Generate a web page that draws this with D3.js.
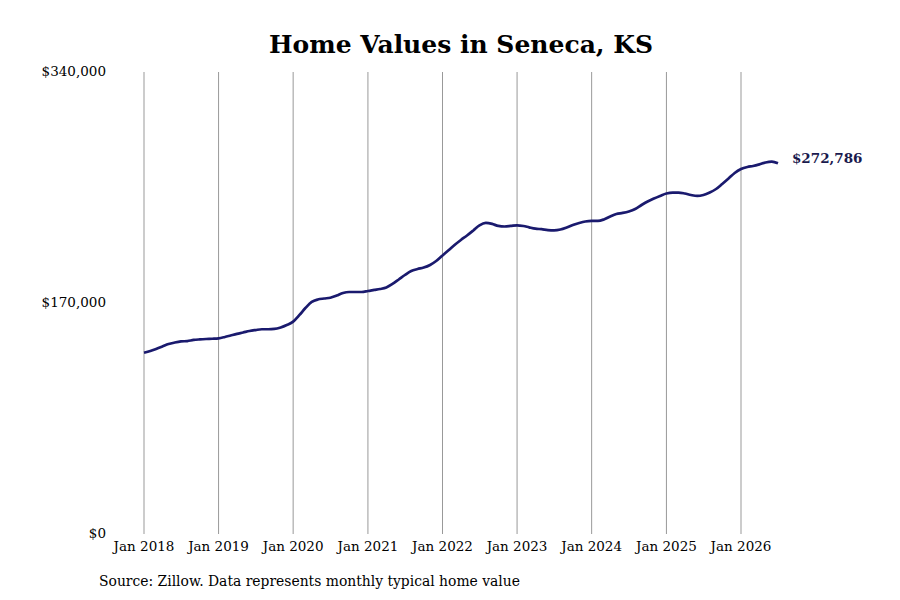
<!DOCTYPE html>
<html>
<head>
<meta charset="utf-8">
<script src="https://cdn.jsdelivr.net/npm/d3@7"></script>
<style>
  body { margin: 0; background: #fff; }
  text { font-family: "DejaVu Serif", serif; }
</style>
</head>
<body>
<div id="chart"></div>
<script>
// monthly typical home value, Jan 2018 .. Jul 2026
const startYear = 2018;
const values = [
  133400, 134700, 136200, 138000, 139800, 140900, 141700, 142000, 142800, 143200, 143500, 143700,
  144000, 145000, 146100, 147300, 148300, 149400, 150100, 150700, 150700, 150900, 152000, 153800,
  156300, 161200, 166300, 170800, 172600, 173300, 173900, 175500, 177400, 178100, 178100, 178100,
  178800, 179600, 180300, 181400, 184000, 187300, 190600, 193600, 195000, 196100, 198000, 200900,
  205000, 209000, 212700, 216400, 219700, 223400, 227100, 228900, 228200, 226700, 226300, 226700,
  227200, 226700, 225700, 224700, 224300, 223700, 223500, 224100, 225600, 227400, 228900, 230000,
  230400, 230400, 231500, 233700, 235500, 236300, 237400, 239200, 242100, 244700, 246900, 248800,
  250600, 251300, 251300, 250600, 249500, 248800, 249500, 251300, 253900, 257600, 261600, 265700,
  268600, 270100, 270800, 272000, 273400, 274000, 272786
];
const tickYears = [2018, 2019, 2020, 2021, 2022, 2023, 2024, 2025, 2026];
const yTicks = [0, 170000, 340000];
const title = "Home Values in Seneca, KS";
const source = "Source: Zillow. Data represents monthly typical home value";

const width = 900, height = 600;
const data = values.map((v, i) => ({ date: new Date(startYear, i, 1), value: v }));

const x = d3.scaleTime()
  .domain([new Date(2018, 0, 1), new Date(2026, 0, 1)])
  .range([144, 741]);
const y = d3.scaleLinear()
  .domain([0, 340000])
  .range([534, 72]);

const svg = d3.select("#chart").append("svg")
  .attr("width", width)
  .attr("height", height);

svg.append("text")
  .attr("x", 461)
  .attr("y", 53)
  .attr("text-anchor", "middle")
  .attr("font-size", 25)
  .attr("font-weight", "bold")
  .text(title);

// vertical grid lines + x labels
const xg = svg.append("g");
xg.selectAll("line")
  .data(tickYears)
  .enter().append("line")
  .attr("x1", d => x(new Date(d, 0, 1)))
  .attr("x2", d => x(new Date(d, 0, 1)))
  .attr("y1", y(340000))
  .attr("y2", y(0))
  .attr("stroke", "#999")
  .attr("stroke-width", 1);
xg.selectAll("text")
  .data(tickYears)
  .enter().append("text")
  .attr("x", d => x(new Date(d, 0, 1)))
  .attr("y", 551)
  .attr("text-anchor", "middle")
  .attr("font-size", 13.5)
  .text(d => "Jan " + d);

// y labels
svg.append("g").selectAll("text")
  .data(yTicks)
  .enter().append("text")
  .attr("x", 106)
  .attr("y", d => y(d))
  .attr("dy", "0.32em")
  .attr("text-anchor", "end")
  .attr("font-size", 13.5)
  .text(d => "$" + d3.format(",")(d));

const line = d3.line()
  .x(d => x(d.date))
  .y(d => y(d.value))
  .curve(d3.curveMonotoneX);

svg.append("path")
  .datum(data)
  .attr("d", line)
  .attr("fill", "none")
  .attr("stroke", "#1a1a6e")
  .attr("stroke-width", 2.7);

const last = data[data.length - 1];
svg.append("text")
  .attr("x", x(last.date) + 14)
  .attr("y", y(last.value) - 5)
  .attr("dy", "0.32em")
  .attr("font-size", 13.5)
  .attr("font-weight", "bold")
  .attr("fill", "#1a1a4e")
  .text("$" + d3.format(",")(last.value));

svg.append("text")
  .attr("x", 99)
  .attr("y", 586)
  .attr("font-size", 13.9)
  .text(source);
</script>
</body>
</html>
